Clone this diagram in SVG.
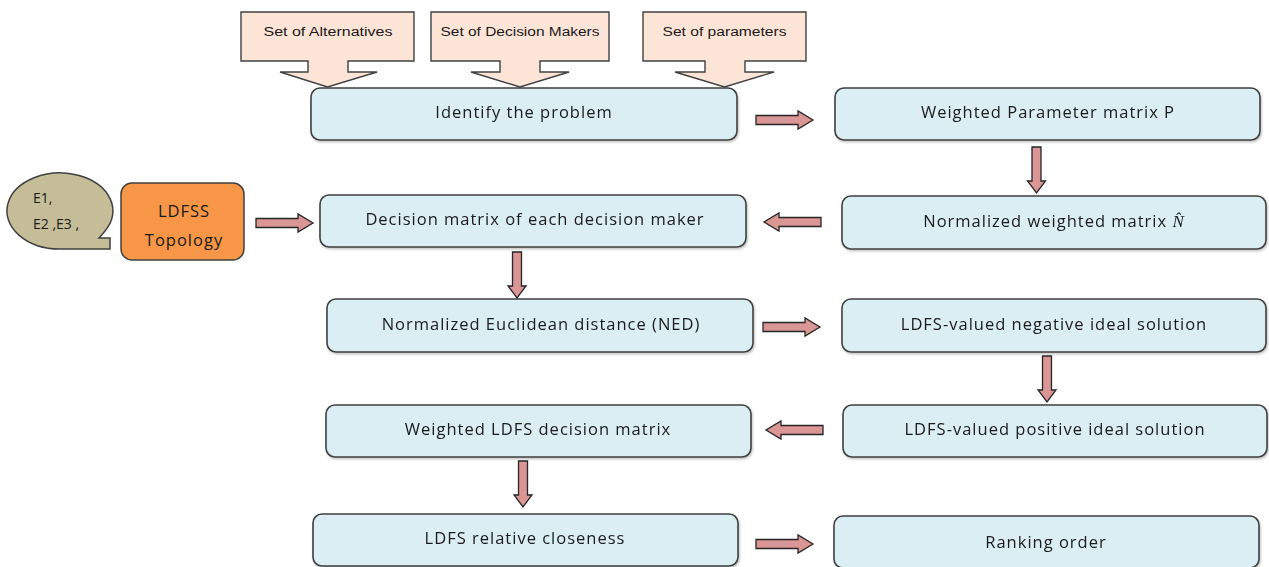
<svg xmlns="http://www.w3.org/2000/svg" xmlns:xlink="http://www.w3.org/1999/xlink" width="1269" height="567" viewBox="0 0 1269 567">
<style>
.box{fill:#dbeef4;stroke:#404040;stroke-width:1.6}
.call{fill:#fce4d6;stroke:#404040;stroke-width:1.4}
.arr{fill:#d99694;stroke:#262626;stroke-width:1.3}
.t{font-family:"Open Sans","Noto Sans",sans-serif;font-size:16.5px;letter-spacing:1px;fill:#1a1a1a;text-anchor:middle}
.s{font-family:"Liberation Sans","Noto Sans",sans-serif;font-size:12.5px;fill:#1a1a1a;text-anchor:middle}
.e{font-family:"Open Sans","Noto Sans",sans-serif;font-size:14px;fill:#1a1a1a}
</style>
<defs>
<path id="ah" class="arr" d="M0,-4.5 H42 V-9 L57,0 L42,9 V4.5 H0 Z"/>
<path id="av" class="arr" d="M-4.5,0 V34 H-9 L0,46 L9,34 H4.5 V0 Z"/>
<filter id="sh" x="-5%" y="-10%" width="110%" height="130%"><feDropShadow dx="1" dy="1.5" stdDeviation="1" flood-color="#000" flood-opacity="0.25"/></filter>
</defs>
<rect width="1269" height="567" fill="#fff"/>
<g id="inputs">
<g id="alt"><path class="call" d="M241,12 H414 V61 H348 V72 H377 L327.5,87 L280,72 H308 V61 H241 Z"/><text class="s" x="328" y="36" textLength="129" lengthAdjust="spacingAndGlyphs">Set of Alternatives</text></g>
<g id="dm"><path class="call" d="M431,12 H609 V61 H540 V72 H569 L520,87 L471,72 H500 V61 H431 Z"/><text class="s" x="520" y="36" textLength="159" lengthAdjust="spacingAndGlyphs">Set of Decision Makers</text></g>
<g id="par"><path class="call" d="M643,12 H806 V61 H745 V72 H774 L724.5,87 L675,72 H705 V61 H643 Z"/><text class="s" x="724.5" y="36" textLength="124" lengthAdjust="spacingAndGlyphs">Set of parameters</text></g>
</g>
<g id="experts"><path d="M110,249 H60 A53,38 0 1 1 105,231 Q101,236 99,238 H110 Z" fill="#c4bd97" stroke="#404040" stroke-width="1.5"/>
<text class="e" x="33" y="203">E1,</text>
<text class="e" x="33" y="229">E2 ,E3 ,</text></g>
<g id="ldfss"><rect x="121" y="183" width="123" height="77" rx="11" fill="#f79646" stroke="#404040" stroke-width="1.5"/><text class="t" x="184" y="217">LDFSS</text><text class="t" x="184" y="246">Topology</text></g>
<g id="n1" filter="url(#sh)"><rect class="box" x="311" y="88" width="426" height="52" rx="9"/><text class="t" x="524" y="118">Identify the problem</text></g>
<g id="n2" filter="url(#sh)"><rect class="box" x="835" y="88" width="425" height="52" rx="9"/><text class="t" x="1048" y="118">Weighted Parameter matrix P</text></g>
<g id="n3" filter="url(#sh)"><rect class="box" x="842" y="196" width="424" height="53" rx="9"/><text class="t" x="1054" y="227">Normalized weighted matrix <tspan font-family="Liberation Serif,serif" font-style="italic" font-size="17">N̂</tspan></text></g>
<g id="n4" filter="url(#sh)"><rect class="box" x="320" y="195" width="426" height="52" rx="9"/><text class="t" x="535" y="225">Decision matrix of each decision maker</text></g>
<g id="n5" filter="url(#sh)"><rect class="box" x="327" y="299" width="426" height="53" rx="9"/><text class="t" x="541" y="330">Normalized Euclidean distance (NED)</text></g>
<g id="n6" filter="url(#sh)"><rect class="box" x="842" y="299" width="424" height="53" rx="9"/><text class="t" x="1054" y="330">LDFS-valued negative ideal solution</text></g>
<g id="n7" filter="url(#sh)"><rect class="box" x="843" y="405" width="424" height="52" rx="9"/><text class="t" x="1055" y="435">LDFS-valued positive ideal solution</text></g>
<g id="n8" filter="url(#sh)"><rect class="box" x="326" y="405" width="425" height="52" rx="9"/><text class="t" x="538" y="435">Weighted LDFS decision matrix</text></g>
<g id="n9" filter="url(#sh)"><rect class="box" x="313" y="514" width="425" height="52" rx="9"/><text class="t" x="525" y="544">LDFS relative closeness</text></g>
<g id="n10" filter="url(#sh)"><rect class="box" x="834" y="516" width="425" height="52" rx="9"/><text class="t" x="1046" y="548">Ranking order</text></g>
<g id="connectors">
<use xlink:href="#ah" href="#ah" transform="translate(756,120)"/>
<use xlink:href="#av" href="#av" transform="translate(1036.5,147)"/>
<use xlink:href="#ah" href="#ah" transform="translate(821,222) scale(-1,1)"/>
<use xlink:href="#ah" href="#ah" transform="translate(256,223)"/>
<use xlink:href="#av" href="#av" transform="translate(517,252)"/>
<use xlink:href="#ah" href="#ah" transform="translate(763,327)"/>
<use xlink:href="#av" href="#av" transform="translate(1047,356)"/>
<use xlink:href="#ah" href="#ah" transform="translate(823,430) scale(-1,1)"/>
<use xlink:href="#av" href="#av" transform="translate(523,461)"/>
<use xlink:href="#ah" href="#ah" transform="translate(756,544)"/>
</g>
</svg>
